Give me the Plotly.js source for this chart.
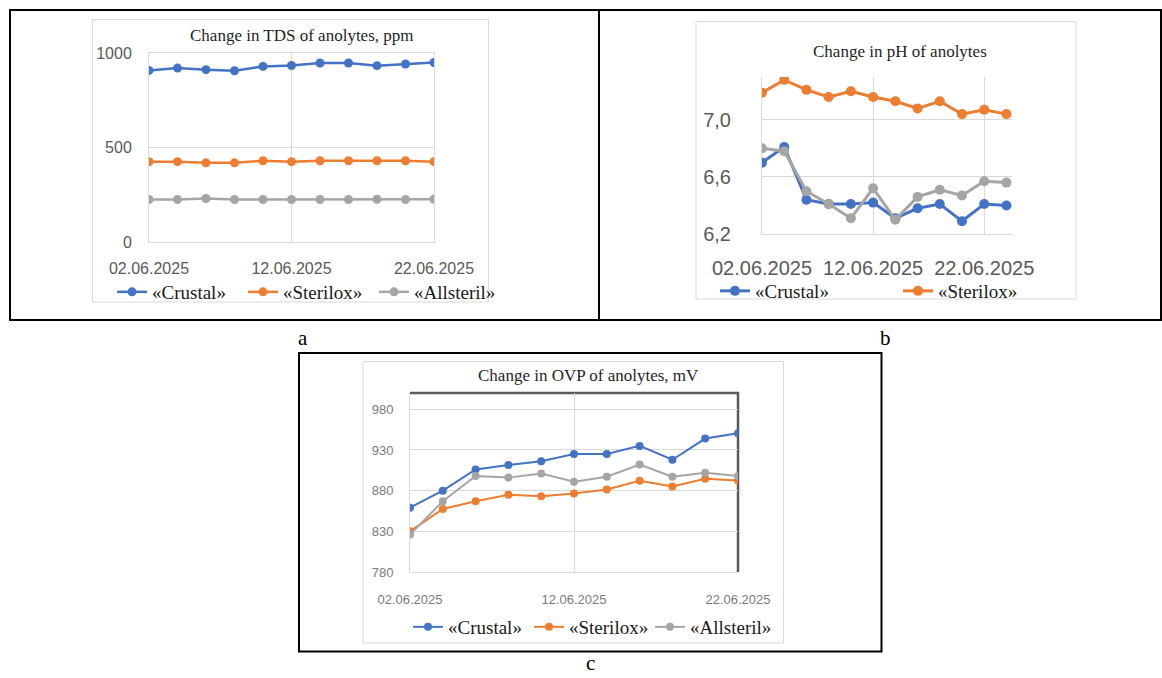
<!DOCTYPE html>
<html>
<head>
<meta charset="utf-8">
<script src="https://cdn.plot.ly/plotly-3.0.1.min.js"></script>
<style>
html,body{margin:0;padding:0;background:#fff;}
#chart{width:1162px;height:678px;}
</style>
</head>
<body>
<div id="chart"></div>
<script>
// ---------- DATA ----------
const datesAC = ['2025-06-02','2025-06-04','2025-06-06','2025-06-08','2025-06-10','2025-06-12','2025-06-14','2025-06-16','2025-06-18','2025-06-20','2025-06-22'];
const datesB  = ['2025-06-02','2025-06-04','2025-06-06','2025-06-08','2025-06-10','2025-06-12','2025-06-14','2025-06-16','2025-06-18','2025-06-20','2025-06-22','2025-06-24'];
const tickDates  = ['2025-06-02','2025-06-12','2025-06-22'];
const tickLabels = ['02.06.2025','12.06.2025','22.06.2025'];
const seriesNames = ['«Crustal»','«Sterilox»','«Allsteril»'];

const tdsCrustal   = [908, 920, 912, 906, 929, 934, 947, 947, 933, 942, 950];
const tdsSterilox  = [425, 425, 419, 419, 430, 425, 430, 430, 430, 430, 425];
const tdsAllsteril = [225, 225, 230, 225, 225, 225, 225, 225, 226, 225, 226];

const phCrustal   = [6.70, 6.81, 6.44, 6.41, 6.41, 6.42, 6.31, 6.38, 6.41, 6.29, 6.41, 6.40];
const phSterilox  = [7.19, 7.28, 7.21, 7.16, 7.20, 7.16, 7.13, 7.08, 7.13, 7.04, 7.07, 7.04];
const phAllsteril = [6.80, 6.78, 6.50, 6.41, 6.31, 6.52, 6.30, 6.46, 6.51, 6.47, 6.57, 6.56];
const phTickVals  = [6.2, 6.6, 7.0];
const phTickText  = ['6,2', '6,6', '7,0'];

const ovpCrustal   = [859, 880, 906, 911.5, 916, 925, 925, 935, 918, 944, 950.5];
const ovpSterilox  = [830, 857.5, 867, 875, 873, 876.5, 881.5, 892, 885, 894.5, 892.5];
const ovpAllsteril = [826, 867, 898, 896, 901, 891, 897, 912, 897, 902, 898];

const titleA = 'Change in TDS of anolytes, ppm';
const titleB = 'Change in pH of anolytes';
const titleC = 'Change in OVP of anolytes, mV';

// ---------- STYLE ----------
const W = 1162, H = 678;
const X = p => p / W;
const Y = p => 1 - p / H;
const colors = ['#4472C4', '#ED7D31', '#A5A5A5'];
const grid = '#d9d9d9';
const tickCol = '#595959';
const serif = 'Liberation Serif, Times New Roman, serif';
const sans = 'Liberation Sans, Arial, sans-serif';

function mk(x, y, i, xa, ya, lg, lw, ms, showleg) {
  return {
    x: x, y: y, name: seriesNames[i], type: 'scatter', mode: 'lines+markers',
    xaxis: xa, yaxis: ya, legend: lg, showlegend: showleg,
    line: {color: colors[i], width: lw},
    marker: {color: colors[i], size: ms}
  };
}

const traces = [
  mk(datesAC, tdsCrustal, 0, 'x', 'y', 'legend', 2.5, 9, true),
  mk(datesAC, tdsSterilox, 1, 'x', 'y', 'legend', 2.5, 9, true),
  mk(datesAC, tdsAllsteril, 2, 'x', 'y', 'legend', 2.5, 9, true),
  mk(datesB, phCrustal, 0, 'x2', 'y2', 'legend2', 3, 10, true),
  mk(datesB, phSterilox, 1, 'x2', 'y2', 'legend2', 3, 10, true),
  mk(datesB, phAllsteril, 2, 'x2', 'y2', 'legend2', 3, 10, false),
  mk(datesAC, ovpCrustal, 0, 'x3', 'y3', 'legend3', 2, 8, true),
  mk(datesAC, ovpSterilox, 1, 'x3', 'y3', 'legend3', 2, 8, true),
  mk(datesAC, ovpAllsteril, 2, 'x3', 'y3', 'legend3', 2, 8, true)
];

function xax(domain, range, fsize, standoff, mirror, anchor, col) {
  return {
    type: 'date', domain: domain, range: range, anchor: anchor,
    tickmode: 'array', tickvals: tickDates, ticktext: tickLabels, tickangle: 0,
    showgrid: true, gridcolor: grid, gridwidth: 1,
    showline: true, linecolor: grid, linewidth: 1, mirror: mirror,
    ticks: '', ticklabelstandoff: standoff, zeroline: false,
    tickfont: {family: sans, size: fsize, color: col || tickCol}, fixedrange: true
  };
}
function yax(domain, range, tv, tt, fsize, standoff, mirror, anchor, col) {
  return {
    domain: domain, range: range, anchor: anchor,
    tickmode: 'array', tickvals: tv, ticktext: tt,
    showgrid: true, gridcolor: grid, gridwidth: 1,
    showline: true, linecolor: grid, linewidth: 1, mirror: mirror,
    ticks: '', ticklabelstandoff: standoff, zeroline: false,
    tickfont: {family: sans, size: fsize, color: col || tickCol}, fixedrange: true
  };
}

const legBase = {orientation: 'h', yanchor: 'middle', xanchor: 'left', bgcolor: 'rgba(0,0,0,0)',
  font: {family: serif, size: 19, color: '#1a1a1a'}, entrywidthmode: 'pixels', traceorder: 'normal'};

const layout = {
  width: W, height: H,
  margin: {l: 0, r: 0, t: 0, b: 0},
  paper_bgcolor: '#ffffff', plot_bgcolor: 'rgba(0,0,0,0)',
  showlegend: true,
  xaxis:  xax([X(149), X(434)], ['2025-06-02', '2025-06-22'], 16, 12, true, 'y'),
  yaxis:  yax([Y(242), Y(53)], [0, 1000], [0, 500, 1000], ['0', '500', '1000'], 16, 13, true, 'x'),
  xaxis2: xax([X(762), X(1012)], ['2025-06-02', '2025-06-24 12:00'], 20, 16, false, 'y2'),
  yaxis2: yax([Y(234), Y(77)], [6.2, 7.3], phTickVals, phTickText, 20, 26, false, 'x2'),
  xaxis3: xax([X(410), X(738)], ['2025-06-02', '2025-06-22'], 13, 15, false, 'y3', '#7a7a7a'),
  yaxis3: yax([Y(572), Y(393)], [780, 1000], [780, 830, 880, 930, 980], ['780', '830', '880', '930', '980'], 13, 13, false, 'x3', '#7a7a7a'),
  legend:  Object.assign({}, legBase, {x: X(112), y: Y(292), entrywidth: 86}),
  legend2: Object.assign({}, legBase, {x: X(715), y: Y(291), entrywidth: 138}),
  legend3: Object.assign({}, legBase, {x: X(408), y: Y(627), entrywidth: 76}),
  shapes: [
    // outer black frames
    {type: 'rect', xref: 'paper', yref: 'paper', x0: X(10), x1: X(1161), y0: Y(320), y1: Y(10), line: {color: '#000', width: 2}},
    {type: 'line', xref: 'paper', yref: 'paper', x0: X(599), x1: X(599), y0: Y(320), y1: Y(10), line: {color: '#000', width: 2}},
    {type: 'rect', xref: 'paper', yref: 'paper', x0: X(299), x1: X(881.5), y0: Y(651.5), y1: Y(353), line: {color: '#000', width: 2}},
    // chart-area frames
    {type: 'rect', xref: 'paper', yref: 'paper', x0: X(92.5), x1: X(488.5), y0: Y(302), y1: Y(19.5), line: {color: grid, width: 1}, layer: 'below'},
    {type: 'rect', xref: 'paper', yref: 'paper', x0: X(696), x1: X(1076), y0: Y(299), y1: Y(21.6), line: {color: grid, width: 1}, layer: 'below'},
    {type: 'rect', xref: 'paper', yref: 'paper', x0: X(363), x1: X(783.5), y0: Y(643), y1: Y(361.5), line: {color: grid, width: 1}, layer: 'below'},
    // dark top / right border of plot c
    {type: 'line', xref: 'paper', yref: 'paper', x0: X(410), x1: X(739), y0: Y(393), y1: Y(393), line: {color: '#595959', width: 2.5}, layer: 'below'},
    {type: 'line', xref: 'paper', yref: 'paper', x0: X(738), x1: X(738), y0: Y(392), y1: Y(572), line: {color: '#595959', width: 2.5}, layer: 'below'}
  ],
  annotations: [
    {xref: 'paper', yref: 'paper', x: X(302), y: Y(35), text: titleA, showarrow: false, xanchor: 'center', yanchor: 'middle', font: {family: serif, size: 17, color: '#1f1f1f'}},
    {xref: 'paper', yref: 'paper', x: X(900), y: Y(52), text: titleB, showarrow: false, xanchor: 'center', yanchor: 'middle', font: {family: serif, size: 17, color: '#1f1f1f'}},
    {xref: 'paper', yref: 'paper', x: X(588), y: Y(375), text: titleC, showarrow: false, xanchor: 'center', yanchor: 'middle', font: {family: serif, size: 17, color: '#1f1f1f'}},
    {xref: 'paper', yref: 'paper', x: X(303), y: Y(338), text: 'a', showarrow: false, xanchor: 'center', yanchor: 'middle', font: {family: serif, size: 21, color: '#000'}},
    {xref: 'paper', yref: 'paper', x: X(886), y: Y(338), text: 'b', showarrow: false, xanchor: 'center', yanchor: 'middle', font: {family: serif, size: 21, color: '#000'}},
    {xref: 'paper', yref: 'paper', x: X(590), y: Y(677), text: 'c', showarrow: false, xanchor: 'center', yanchor: 'bottom', font: {family: serif, size: 21, color: '#000'}}
  ]
};

Plotly.newPlot('chart', traces, layout, {displayModeBar: false, staticPlot: true});
</script>
</body>
</html>
